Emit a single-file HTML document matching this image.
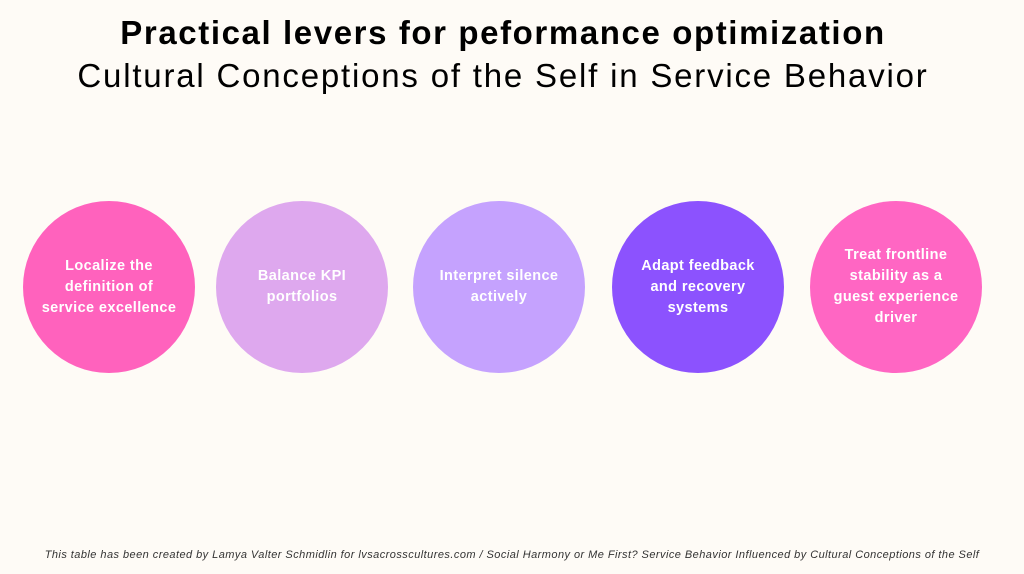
<!DOCTYPE html>
<html><head><meta charset="utf-8"><style>
body{margin:0;width:1024px;height:574px;background:#fefbf6;font-family:"Liberation Sans",sans-serif;position:relative;overflow:hidden}
.t{position:absolute;left:0;width:1024px;text-align:center;color:#000;white-space:nowrap}
.c{position:absolute;width:172px;height:172px;border-radius:50%;display:flex;align-items:center;justify-content:center;text-align:center;color:#fff;font-weight:bold;font-size:14.5px;line-height:21px;letter-spacing:0.4px;box-sizing:border-box;padding:0 16px;top:201px}
</style></head><body>
<div class="t" style="top:14px;left:-9px;font-size:33px;font-weight:bold;letter-spacing:1.6px">Practical levers for peformance optimization</div>
<div class="t" style="top:57px;left:-9px;font-size:33px;letter-spacing:1.8px">Cultural Conceptions of the Self in Service Behavior</div>
<div class="c" style="left:23px;background:#ff62bd">Localize the<br>definition of<br>service excellence</div>
<div class="c" style="left:216px;background:#dea8ee">Balance KPI<br>portfolios</div>
<div class="c" style="left:413px;background:#c5a2fe">Interpret silence<br>actively</div>
<div class="c" style="left:612px;background:#8c52fe">Adapt feedback<br>and recovery<br>systems</div>
<div class="c" style="left:810px;background:#ff66c3">Treat frontline<br>stability as a<br>guest experience<br>driver</div>
<div class="t" style="top:549px;font-size:11px;font-style:italic;color:#333;letter-spacing:0.45px">This table has been created by Lamya Valter Schmidlin for lvsacrosscultures.com / Social Harmony or Me First? Service Behavior Influenced by Cultural Conceptions of the Self</div>
</body></html>
